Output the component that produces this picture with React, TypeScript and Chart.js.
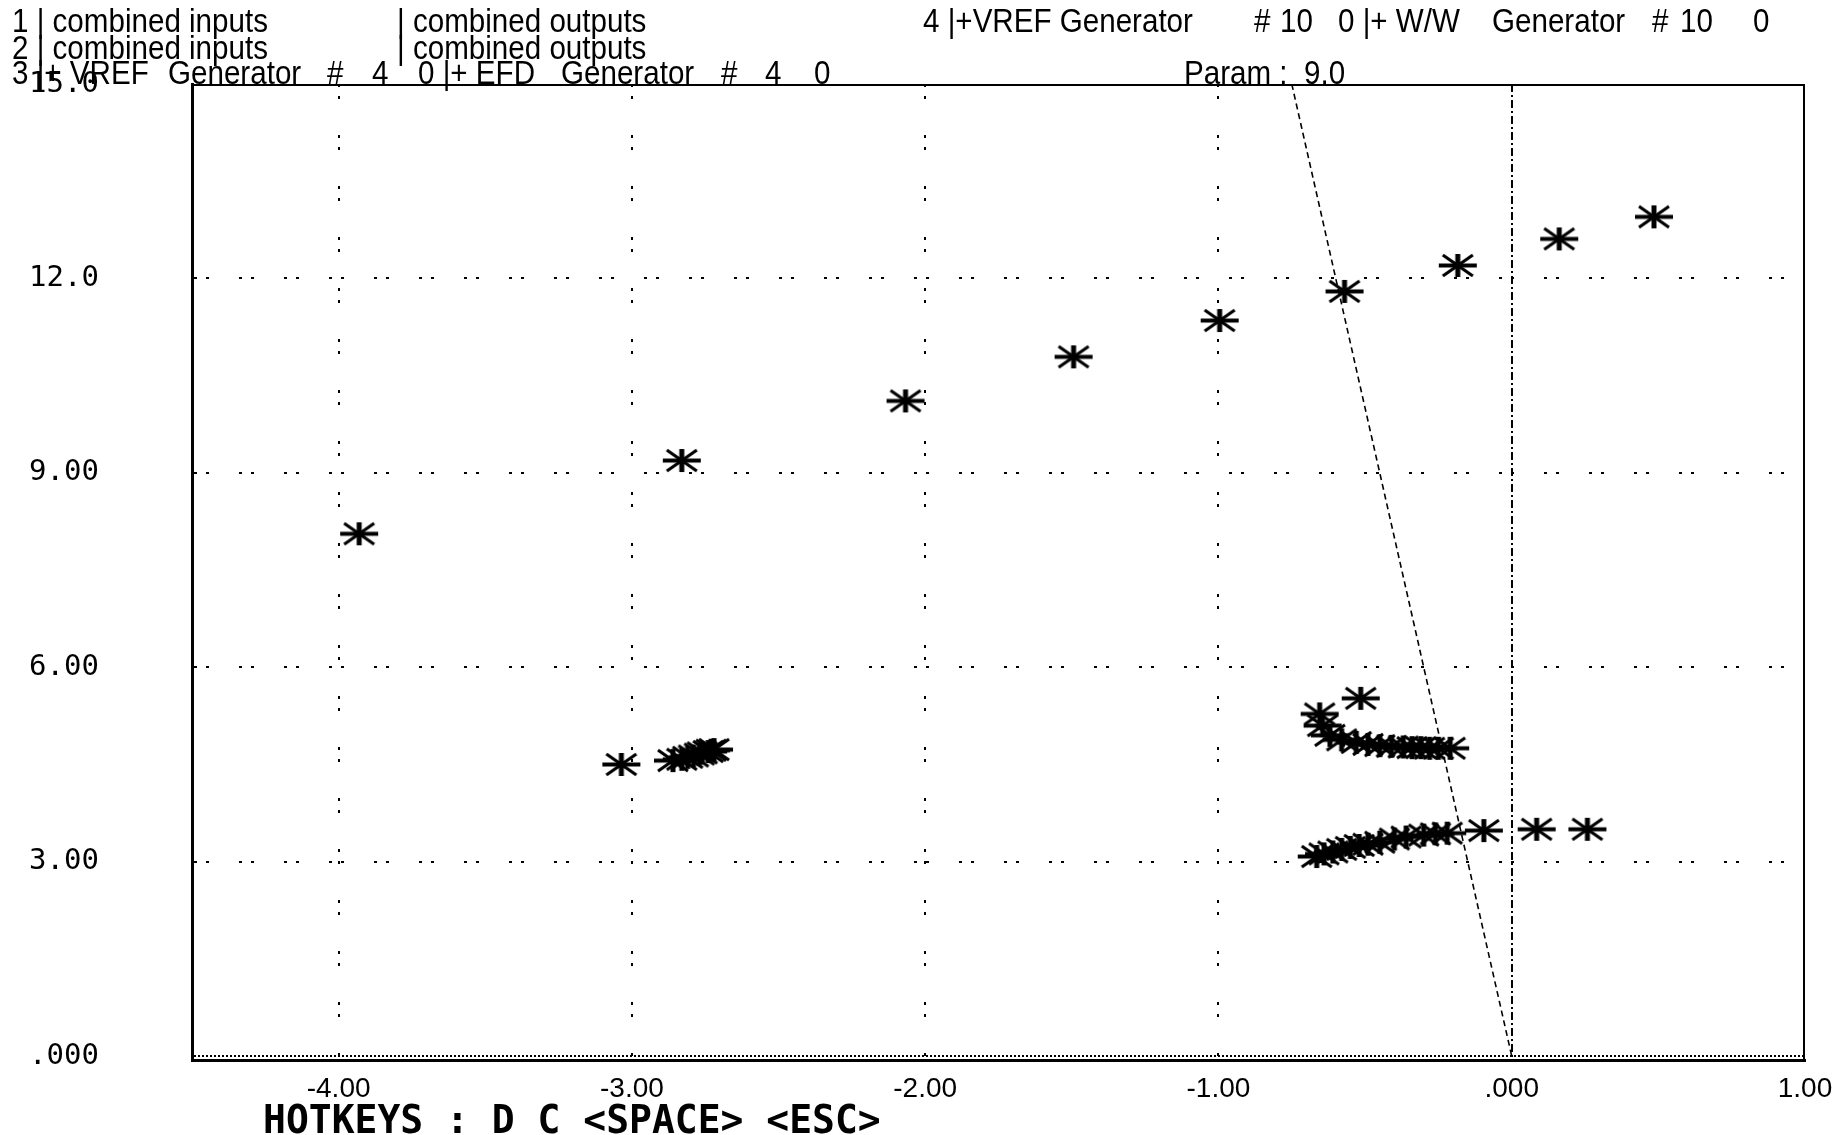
import React, { useEffect, useRef } from "react";
import { Chart, registerables } from "chart.js";

Chart.register(...registerables);

// ---- data ----
const upperSeries: [number, number][] = [
  [-3.93, 8.06], [-2.83, 9.19], [-2.067, 10.11], [-1.494, 10.79], [-0.996, 11.35],
  [-0.57, 11.8], [-0.184, 12.2], [0.162, 12.61], [0.485, 12.95],
];
const leftCluster: [number, number][] = [
  [-3.036, 4.5], [-2.86, 4.56], [-2.83, 4.58], [-2.81, 4.61], [-2.79, 4.63],
  [-2.77, 4.66], [-2.76, 4.68], [-2.74, 4.7], [-2.73, 4.72], [-2.72, 4.73],
];
const midRightCluster: [number, number][] = [
  [-0.515, 5.52], [-0.655, 5.28], [-0.645, 5.1], [-0.62, 4.95], [-0.58, 4.88],
  [-0.53, 4.84], [-0.49, 4.81], [-0.45, 4.79], [-0.41, 4.78], [-0.37, 4.77],
  [-0.34, 4.76], [-0.31, 4.76], [-0.28, 4.75], [-0.25, 4.75], [-0.21, 4.75],
];
const lowerRightCluster: [number, number][] = [
  [-0.665, 3.08], [-0.64, 3.12], [-0.61, 3.15], [-0.58, 3.19], [-0.55, 3.22],
  [-0.52, 3.25], [-0.49, 3.27], [-0.45, 3.3], [-0.4, 3.35], [-0.36, 3.38],
  [-0.3, 3.41], [-0.26, 3.43], [-0.22, 3.44], [-0.095, 3.48], [0.085, 3.5], [0.258, 3.5],
];
const boundaryLine: [number, number][] = [[-0.75, 15], [0, 0]];

const xTickValues = [-4, -3, -2, -1, 0, 1];
const xTickLabels = ["-4.00", "-3.00", "-2.00", "-1.00", ".000", "1.00"];
const yTickValues = [0, 3, 6, 9, 12, 15];
const yTickLabels = [".000", "3.00", "6.00", "9.00", "12.0", "15.0"];

const headerRow1 = ["1 | combined inputs", "| combined outputs", "4 |+VREF Generator", "#", "10", "0 |+ W/W", "Generator", "#", "10", "0"];
const headerRow2 = ["2 | combined inputs", "| combined outputs"];
const headerRow3 = ["3 |+ VREF", "Generator", "#", "4", "0 |+ EFD", "Generator", "#", "4", "0", "Param :  9.0"];
const footerText = "HOTKEYS : D C <SPACE> <ESC>";

// ---- layout (positions only) ----
const row1X = [12, 397, 923, 1254, 1280, 1338, 1492, 1652, 1680, 1753];
const row2X = [12, 397];
const row3X = [12, 168, 327, 372, 418, 561, 721, 765, 814, 1184];
const textScaleX = 0.87;

const toXY = (a: [number, number][]) => a.map(([x, y]) => ({ x, y }));

function makeMarker(): HTMLCanvasElement {
  const c = document.createElement("canvas");
  c.width = 40;
  c.height = 25;
  const g = c.getContext("2d")!;
  g.strokeStyle = "#000";
  g.lineWidth = 4;
  g.beginPath();
  g.moveTo(1, 12.5);
  g.lineTo(39, 12.5);
  g.stroke();
  g.lineWidth = 5;
  g.beginPath();
  g.moveTo(20, 1);
  g.lineTo(20, 24);
  g.stroke();
  g.lineWidth = 3.2;
  g.beginPath();
  g.moveTo(5, 2);
  g.lineTo(35, 23);
  g.moveTo(35, 2);
  g.lineTo(5, 23);
  g.stroke();
  return c;
}

const textFont = "'Liberation Sans', Arial, sans-serif";

const decorPlugin = {
  id: "decor",
  afterDraw(chart: any) {
    const { ctx, chartArea } = chart;
    ctx.save();
    // top & right frame
    ctx.strokeStyle = "#000";
    ctx.lineWidth = 2;
    ctx.beginPath();
    ctx.moveTo(chartArea.left, chartArea.top + 1);
    ctx.lineTo(chartArea.right, chartArea.top + 1);
    ctx.moveTo(chartArea.right - 1, chartArea.top);
    ctx.lineTo(chartArea.right - 1, chartArea.bottom);
    ctx.stroke();

    ctx.fillStyle = "#000";
    ctx.textBaseline = "middle";
    ctx.textAlign = "left";
    ctx.font = `34px ${textFont}`;
    const put = (t: string, x: number, y: number) => {
      ctx.save();
      ctx.translate(x, y);
      ctx.scale(textScaleX, 1);
      ctx.fillText(t, 0, 0);
      ctx.restore();
    };
    headerRow1.forEach((t, i) => put(t, row1X[i], 23));
    headerRow2.forEach((t, i) => put(t, row2X[i], 50));
    headerRow3.forEach((t, i) => put(t, row3X[i], 75));

    ctx.font = "bold 38px 'DejaVu Sans Mono', monospace";
    ctx.save();
    ctx.translate(263, 1123);
    ctx.scale(1, 1.05);
    ctx.fillText(footerText, 0, 0);
    ctx.restore();
    ctx.restore();
  },
};

export default function App() {
  const ref = useRef<HTMLCanvasElement | null>(null);

  useEffect(() => {
    if (!ref.current) return;
    const marker = makeMarker();
    const pointDs = (label: string, arr: [number, number][]) => ({
      label,
      data: toXY(arr),
      pointStyle: marker,
      pointRadius: 12,
      showLine: false,
    });
    const chart = new Chart(ref.current, {
      type: "scatter",
      data: {
        datasets: [
          pointDs("upper", upperSeries),
          pointDs("left", leftCluster),
          pointDs("midRight", midRightCluster),
          pointDs("lowerRight", lowerRightCluster),
          {
            type: "line",
            label: "boundary",
            data: toXY(boundaryLine),
            borderColor: "#000",
            borderWidth: 1.6,
            borderDash: [6, 4],
            pointRadius: 0,
            showLine: true,
            fill: false,
          } as any,
        ],
      },
      options: {
        animation: false,
        responsive: false,
        maintainAspectRatio: false,
        layout: { padding: { left: 29, right: 27, top: 84, bottom: 0 } },
        plugins: {
          legend: { display: false },
          tooltip: { enabled: false },
          title: { display: false },
        },
        scales: {
          x: {
            type: "linear",
            min: -4.5,
            max: 1,
            afterBuildTicks: (s: any) => {
              s.ticks = xTickValues.map((v) => ({ value: v }));
            },
            afterFit: (s: any) => {
              s.height = 75;
              s.paddingLeft = 0;
              s.paddingRight = 0;
            },
            ticks: {
              autoSkip: false,
              maxRotation: 0,
              padding: 12,
              color: "#000",
              font: { family: textFont, size: 28 },
              callback: (v: any) => {
                const i = xTickValues.indexOf(Number(v));
                return i >= 0 ? xTickLabels[i] : "";
              },
            },
            grid: {
              drawTicks: false,
              lineWidth: 2,
              color: (c: any) =>
                c.tick && c.tick.value === 1 ? "rgba(0,0,0,0)" : "#000",
            },
            border: {
              display: true,
              color: "#000",
              width: 3,
              dash: (c: any) => {
                if (!c.tick) return [];
                return c.tick.value === 0 ? [8, 3, 2, 3] : [3, 9, 3, 36];
              },
            },
          },
          y: {
            type: "linear",
            min: -0.06,
            max: 15,
            afterBuildTicks: (s: any) => {
              s.ticks = yTickValues.map((v) => ({ value: v }));
            },
            afterFit: (s: any) => {
              s.width = 163;
              s.paddingTop = 0;
              s.paddingBottom = 0;
            },
            ticks: {
              autoSkip: false,
              crossAlign: "far",
              color: "#000",
              font: { family: "'DejaVu Sans Mono', monospace", size: 29 },
              callback: (v: any) => {
                const i = yTickValues.indexOf(Number(v));
                return i >= 0 ? yTickLabels[i] : "";
              },
            },
            grid: {
              drawTicks: false,
              lineWidth: 2,
              color: (c: any) =>
                c.tick && c.tick.value === 15 ? "rgba(0,0,0,0)" : "#000",
            },
            border: {
              display: true,
              color: "#000",
              width: 3,
              dash: (c: any) => {
                if (!c.tick) return [];
                return c.tick.value === 0 ? [2, 2] : [3, 9, 3, 30];
              },
            },
          },
        },
      },
      plugins: [decorPlugin],
    } as any);
    return () => chart.destroy();
  }, []);

  return (
    <div style={{ position: "absolute", left: 0, top: 0, width: 1832, height: 1135, background: "#fff" }}>
      <canvas ref={ref} width={1832} height={1135} style={{ display: "block" }} />
    </div>
  );
}
